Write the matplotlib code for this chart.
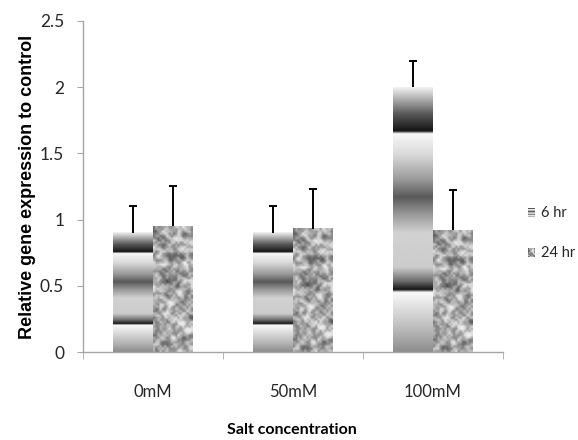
import numpy as np
import matplotlib.pyplot as plt

# Chart data
categories = ['0mM', '50mM', '100mM']
series_names = ['6 hr', '24 hr']
values_6hr = [0.90, 0.90, 2.00]
errors_6hr = [0.20, 0.20, 0.20]
values_24hr = [0.95, 0.93, 0.92]
errors_24hr = [0.30, 0.30, 0.30]
y_ticks = [0, 0.5, 1, 1.5, 2, 2.5]
y_tick_labels = ['0', '0.5', '1', '1.5', '2', '2.5']

# Grey levels of the banded fill of the 6 hr bars (fraction of bar height -> grey)
BAND_POS = [0.0, 0.08, 0.17, 0.225, 0.235, 0.27, 0.32, 0.45, 0.52, 0.585,
            0.65, 0.75, 0.825, 0.835, 0.9, 0.95, 1.0]
BAND_GREY = [0.55, 0.72, 0.88, 0.98, 0.08, 0.45, 0.80, 0.82, 0.60, 0.35,
             0.60, 0.86, 0.97, 0.08, 0.35, 0.65, 0.95]

AXIS_GREY = '#a6a6a6'
TEXT_DARK = '#262626'
plt.rcParams['font.family'] = ['Lato', 'DejaVu Sans']


def band_texture(n=400):
    """Vertical grey profile for the 6 hr bars (row 0 is the top of the bar)."""
    f = np.linspace(1, 0, n)
    g = np.interp(f, BAND_POS, BAND_GREY)
    return np.repeat(g[:, None], 4, axis=1)


def granite_texture(h, w):
    """Deterministic mottled grey fill for the 24 hr bars."""
    yy, xx = np.mgrid[0:h, 0:w].astype(float)
    n = np.sin(xx * 12.9898 + yy * 78.233) * 43758.5453
    n = n - np.floor(n)
    p = np.pad(n, 1, mode='wrap')
    smooth = sum(p[1 + dy:1 + dy + h, 1 + dx:1 + dx + w]
                 for dy in (-1, 0, 1) for dx in (-1, 0, 1)) / 9.0
    t = 0.7 * smooth + 0.3 * n
    t = (t - t.min()) / (t.max() - t.min())
    return np.clip(0.32 + 0.70 * t, 0, 0.95)


fig = plt.figure(figsize=(5.78, 4.4), dpi=100)
ax = fig.add_axes([83 / 578, 88 / 440, 420 / 578, 331 / 440])

x = np.arange(len(categories))
width = 0.2857
bars_6 = ax.bar(x - width / 2, values_6hr, width, color='none', edgecolor='none')
bars_24 = ax.bar(x + width / 2, values_24hr, width, color='none', edgecolor='none')

# Fill each bar with its texture
for b in bars_6:
    x0, w, h = b.get_x(), b.get_width(), b.get_height()
    ax.imshow(band_texture(), cmap='gray', vmin=0, vmax=1, aspect='auto',
              extent=(x0, x0 + w, 0, h), interpolation='bilinear', zorder=2)
for b in bars_24:
    x0, w, h = b.get_x(), b.get_width(), b.get_height()
    ax.imshow(granite_texture(int(h * 60), 18), cmap='gray', vmin=0, vmax=1,
              aspect='auto', extent=(x0, x0 + w, 0, h),
              interpolation='bilinear', zorder=2)

# Upper error bars only (hide the lower caps)
zeros = np.zeros(len(categories))
for xs, vals, errs in [(x - width / 2, values_6hr, errors_6hr),
                       (x + width / 2, values_24hr, errors_24hr)]:
    eb = ax.errorbar(xs, vals, yerr=[zeros, errs], fmt='none', ecolor='black',
                     elinewidth=1.4, capsize=3, capthick=1.4, zorder=3)
    eb[1][0].set_visible(False)

ax.set_xlim(-0.5, 2.5)
ax.set_ylim(0, 2.5)
for s in ['top', 'right']:
    ax.spines[s].set_visible(False)
for s in ['left', 'bottom']:
    ax.spines[s].set_color(AXIS_GREY)
    ax.spines[s].set_linewidth(1.0)
    ax.spines[s].set_zorder(4)

ax.set_yticks(y_ticks)
ax.set_yticklabels(y_tick_labels)
ax.tick_params(axis='y', direction='out', length=4, color=AXIS_GREY,
               pad=9.5, labelsize=12.5, labelcolor=TEXT_DARK)
ax.set_xticks(x)
ax.set_xticklabels(categories)
ax.set_xticks([-0.5, 0.5, 1.5, 2.5], minor=True)
ax.tick_params(axis='x', which='major', length=0, pad=23, labelsize=12,
               labelcolor=TEXT_DARK)
ax.tick_params(axis='x', which='minor', direction='out', length=5,
               color=AXIS_GREY)

fig.text(28 / 578, 1 - 187 / 440, 'Relative gene expression to control',
         rotation=90, ha='center', va='center', fontsize=13,
         fontweight='bold', family='Liberation Sans')
fig.text(292 / 578, 1 - 430 / 440, 'Salt concentration', ha='center',
         va='center', fontsize=11.5, fontweight='bold')

# Legend: small texture squares with labels on the right
legend_y = [213, 253]
legend_tex = [band_texture(40)[::4], granite_texture(8, 8)]
for name, yc, tex in zip(series_names, legend_y, legend_tex):
    lax = fig.add_axes([528 / 578, 1 - (yc + 4) / 440, 7 / 578, 9 / 440])
    lax.imshow(tex, cmap='gray', vmin=0, vmax=1, aspect='auto')
    lax.axis('off')
    fig.text(541 / 578, 1 - yc / 440, name, ha='left', va='center',
             fontsize=10.5, color=TEXT_DARK)

fig.savefig('out.png', dpi=100)
